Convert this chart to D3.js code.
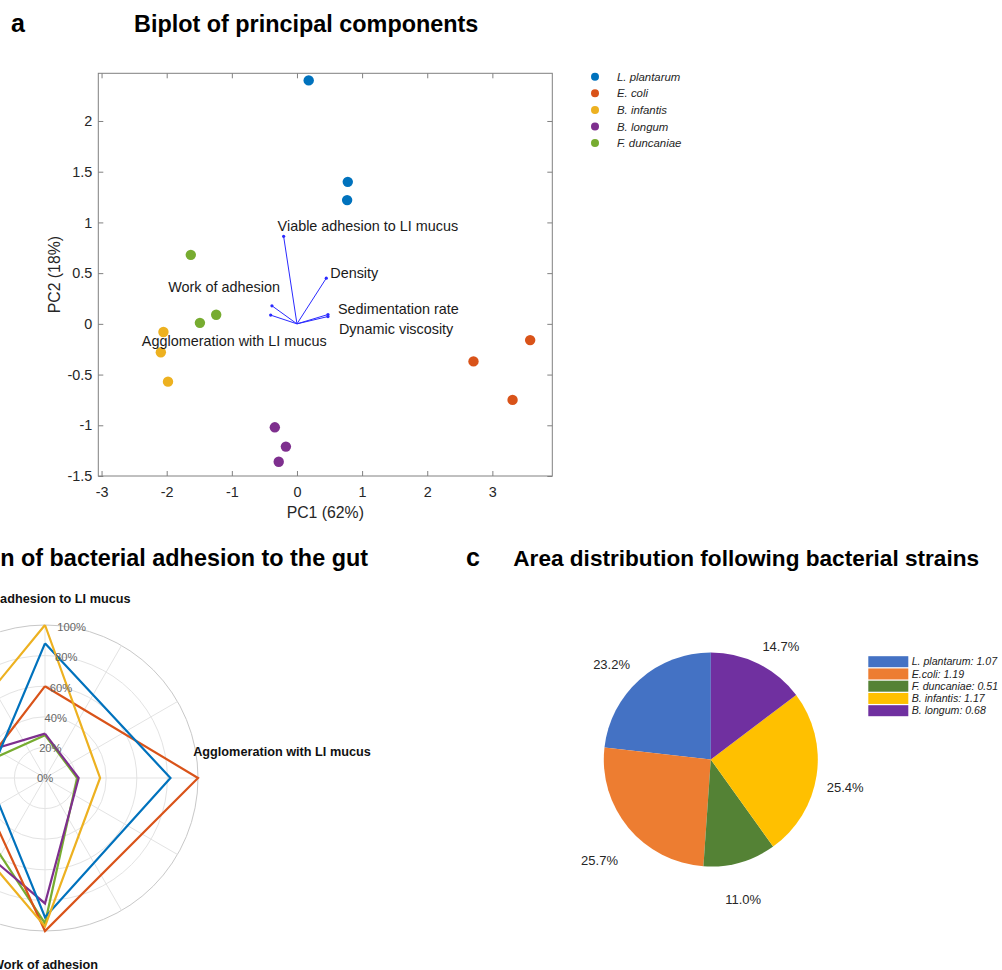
<!DOCTYPE html>
<html><head><meta charset="utf-8">
<script src="https://cdn.jsdelivr.net/npm/d3@7"></script>
<style>body{margin:0;background:#fff}svg{display:block;font-family:"Liberation Sans",Arial,Helvetica,sans-serif}</style>
</head><body><svg id="chart" width="1002" height="970"></svg>
<script>
// ---------- Panel a: PCA biplot ----------
const strains = ["L. plantarum","E. coli","B. infantis","B. longum","F. duncaniae"];
const strainColors = ["#0072BD","#D95319","#EDB120","#7E2F8E","#77AC30"];
const pc1Scores = [[0.18,0.78,0.77],[3.58,2.71,3.31],[-2.05,-2.09,-1.98],[-0.34,-0.17,-0.28],[-1.63,-1.49,-1.24]];
const pc2Scores = [[2.40,1.40,1.22],[-0.16,-0.37,-0.75],[-0.08,-0.28,-0.57],[-1.02,-1.21,-1.36],[0.68,0.01,0.09]];
const variables = ["Viable adhesion to LI mucus","Density","Work of adhesion","Agglomeration with LI mucus","Sedimentation rate","Dynamic viscosity"];
const loadingPC1 = [-0.205,0.45,-0.384,-0.404,0.476,0.476];
const loadingPC2 = [0.863,0.45,0.178,0.086,0.092,0.072];
const pc1Ticks = [-3,-2,-1,0,1,2,3];
const pc2Ticks = [-1.5,-1,-0.5,0,0.5,1,1.5,2];

// ---------- Panel b: radar ----------
const radarAxes = ["Viable adhesion to LI mucus","Agglomeration with LI mucus","Work of adhesion","Sedimentation rate"];
const radarValues = [[88,82,91,37],[60,100,100,46],[100,36,97,82],[29,22,82,97],[28,21,95,62]];
const radarTicks = [0,20,40,60,80,100];

// ---------- Panel c: pie ----------
const pieStrains = ["L. plantarum","E.coli","F. duncaniae","B. infantis","B. longum"];
const pieAreas = ["1.07","1.19","0.51","1.17","0.68"];
const piePercents = [23.2,25.7,11.0,25.4,14.7];
const pieColors = ["#4472C4","#ED7D31","#548235","#FFC000","#7030A0"];

const svg = d3.select("#chart");
const txt = "#262626";

// ===== Panel a =====
svg.append("text").attr("x",11).attr("y",32).attr("font-size",25).attr("font-weight","bold").text("a");
svg.append("text").attr("x",134).attr("y",32).attr("font-size",23.4).attr("font-weight","bold").text("Biplot of principal components");

const L=98.3,R=552.3,T=73.3,B=476;
const x = d3.scaleLinear().domain([-3.05,3.92]).range([L,R]);
const y = d3.scaleLinear().domain([-1.5,2.47]).range([B,T]);
const gA = svg.append("g");
const frame="#808080";
const axB = gA.append("g").attr("transform",`translate(0,${B})`).call(d3.axisBottom(x).tickValues(pc1Ticks).tickSize(-5).tickPadding(11).tickFormat(d=>String(d)));
const axL = gA.append("g").attr("transform",`translate(${L},0)`).call(d3.axisLeft(y).tickValues(pc2Ticks).tickSize(-5).tickPadding(6).tickFormat(d=>String(d)));
const axT = gA.append("g").attr("transform",`translate(0,${T})`).call(d3.axisTop(x).tickValues(pc1Ticks).tickSize(-5).tickFormat(""));
const axR = gA.append("g").attr("transform",`translate(${R},0)`).call(d3.axisRight(y).tickValues(pc2Ticks).tickSize(-5).tickFormat(""));
[axB,axL,axT,axR].forEach(a=>{
  a.select(".domain").remove();
  a.selectAll("line").attr("stroke",frame);
  a.selectAll("text").attr("font-size",14.4).attr("fill",txt).attr("font-family","Liberation Sans, Arial, sans-serif");
});
gA.append("rect").attr("x",L).attr("y",T).attr("width",R-L).attr("height",B-T).attr("fill","none").attr("stroke",frame).attr("stroke-width",1);

gA.append("text").attr("x",(L+R)/2).attr("y",518).attr("text-anchor","middle").attr("font-size",15.8).attr("fill",txt).text("PC1 (62%)");
gA.append("text").attr("transform",`translate(60,${(T+B)/2}) rotate(-90)`).attr("text-anchor","middle").attr("font-size",15.8).attr("fill",txt).text("PC2 (18%)");

// points
strains.forEach((s,i)=>{
  gA.selectAll(null).data(pc1Scores[i].map((v,j)=>[v,pc2Scores[i][j]])).enter().append("circle")
    .attr("cx",d=>x(d[0])).attr("cy",d=>y(d[1])).attr("r",5.2).attr("fill",strainColors[i]);
});
// vectors
const vecColor="#2a2aff";
variables.forEach((v,i)=>{
  gA.append("line").attr("x1",x(0)).attr("y1",y(0)).attr("x2",x(loadingPC1[i])).attr("y2",y(loadingPC2[i])).attr("stroke",vecColor).attr("stroke-width",1);
  gA.append("circle").attr("cx",x(loadingPC1[i])).attr("cy",y(loadingPC2[i])).attr("r",1.6).attr("fill",vecColor);
});
// label layout (px offsets from vector tip): [dx, dy, anchor]
const vecLabelLayout = [[-6,-5,"start"],[4,0,"start"],[8,-14,"end"],[56,31,"end"],[10,-1,"start"],[11,17,"start"]];
variables.forEach((v,i)=>{
  const [dx,dy,anc]=vecLabelLayout[i];
  gA.append("text").attr("x",x(loadingPC1[i])+dx).attr("y",y(loadingPC2[i])+dy).attr("text-anchor",anc)
    .attr("font-size",14.4).attr("fill","#1a1a1a").text(v);
});
// legend a
strains.forEach((s,i)=>{
  const ly = 76.7 + i*16.6;
  svg.append("circle").attr("cx",595).attr("cy",ly).attr("r",4).attr("fill",strainColors[i]);
  svg.append("text").attr("x",617).attr("y",ly+4).attr("font-size",11.4).attr("font-style","italic").attr("fill",txt).text(s);
});

// ===== Panel b: radar =====
svg.append("text").attr("x",368).attr("y",566).attr("text-anchor","end").attr("font-size",23.4).attr("font-weight","bold").text("Evaluation of bacterial adhesion to the gut");
svg.append("text").attr("x",-360).attr("y",566).attr("font-size",25).attr("font-weight","bold").text("b");
const cx=45, cy=778, Rr=153;
const r = d3.scaleLinear().domain([0,100]).range([0,Rr]);
const gB = svg.append("g").attr("transform",`translate(${cx},${cy})`);
radarTicks.slice(1).forEach(t=>{
  gB.append("circle").attr("r",r(t)).attr("fill","none").attr("stroke",t===100?"#c8c8c8":"#e3e3e3").attr("stroke-width",1);
});
d3.range(0,360,30).forEach(a=>{
  const rad=a*Math.PI/180;
  gB.append("line").attr("x1",0).attr("y1",0).attr("x2",Rr*Math.sin(rad)).attr("y2",-Rr*Math.cos(rad)).attr("stroke","#e3e3e3");
});
const ang = i => i*2*Math.PI/radarAxes.length;
const line = d3.line().x(d=>r(d[1])*Math.sin(ang(d[0]))).y(d=>-r(d[1])*Math.cos(ang(d[0])));
const drawOrder=[4,3,1,0,2];
drawOrder.forEach(i=>{
  const pts = radarValues[i].map((v,k)=>[k,v]); pts.push([0,radarValues[i][0]]);
  gB.append("path").attr("d",line(pts)).attr("fill","none").attr("stroke",strainColors[i]).attr("stroke-width",2.2).attr("stroke-linejoin","miter");
});
const tickAng = 10*Math.PI/180;
radarTicks.forEach(t=>{
  gB.append("text").attr("x",r(t)*Math.sin(tickAng)).attr("y",-r(t)*Math.cos(tickAng)).attr("dy","0.35em")
    .attr("text-anchor","middle").attr("font-size",11.2).attr("fill","#666").text(t+"%");
});
// axis labels
const radarLabelPos = [[0,-175],[237,-22],[0,191],[-237,-22]];
radarAxes.forEach((a,i)=>{
  gB.append("text").attr("x",radarLabelPos[i][0]).attr("y",radarLabelPos[i][1]).attr("text-anchor","middle")
    .attr("font-size",12.7).attr("font-weight","bold").attr("fill","#111").text(a);
});

// ===== Panel c: pie =====
svg.append("text").attr("x",466).attr("y",566).attr("font-size",25).attr("font-weight","bold").text("c");
svg.append("text").attr("x",513.3).attr("y",566).attr("font-size",22.6).attr("font-weight","bold").text("Area distribution following bacterial strains");
const pcx=710.8, pcy=759.5, pr=107;
const pie = d3.pie().sort(null).startAngle(0).endAngle(-2*Math.PI);
const arcs = pie(piePercents);
const arc = d3.arc().innerRadius(0).outerRadius(pr);
const gC = svg.append("g").attr("transform",`translate(${pcx},${pcy})`);
gC.selectAll("path").data(arcs).enter().append("path").attr("d",arc).attr("fill",(d,i)=>pieColors[i]);
const lr = 137;
const pieLabelNudge = [[-8,7],[-6,13],[-5,8],[-1,7],[9,10]];
gC.selectAll("text").data(arcs).enter().append("text")
  .attr("x",(d,i)=>lr*Math.sin((d.startAngle+d.endAngle)/2)+pieLabelNudge[i][0])
  .attr("y",(d,i)=>-lr*Math.cos((d.startAngle+d.endAngle)/2)+pieLabelNudge[i][1]).attr("dy","0.35em")
  .attr("text-anchor","middle").attr("font-size",13).attr("fill","#262626").text(d=>d.data.toFixed(1)+"%");
pieStrains.forEach((s,i)=>{
  const ly = 661.7 + i*12.25;
  svg.append("rect").attr("x",868.3).attr("y",ly-5.5).attr("width",40).attr("height",11).attr("fill",pieColors[i]);
  svg.append("text").attr("x",911.7).attr("y",ly+3.7).attr("font-size",10.6).attr("font-style","italic").attr("fill","#222").text(s+": "+pieAreas[i]);
});
</script></body></html>
